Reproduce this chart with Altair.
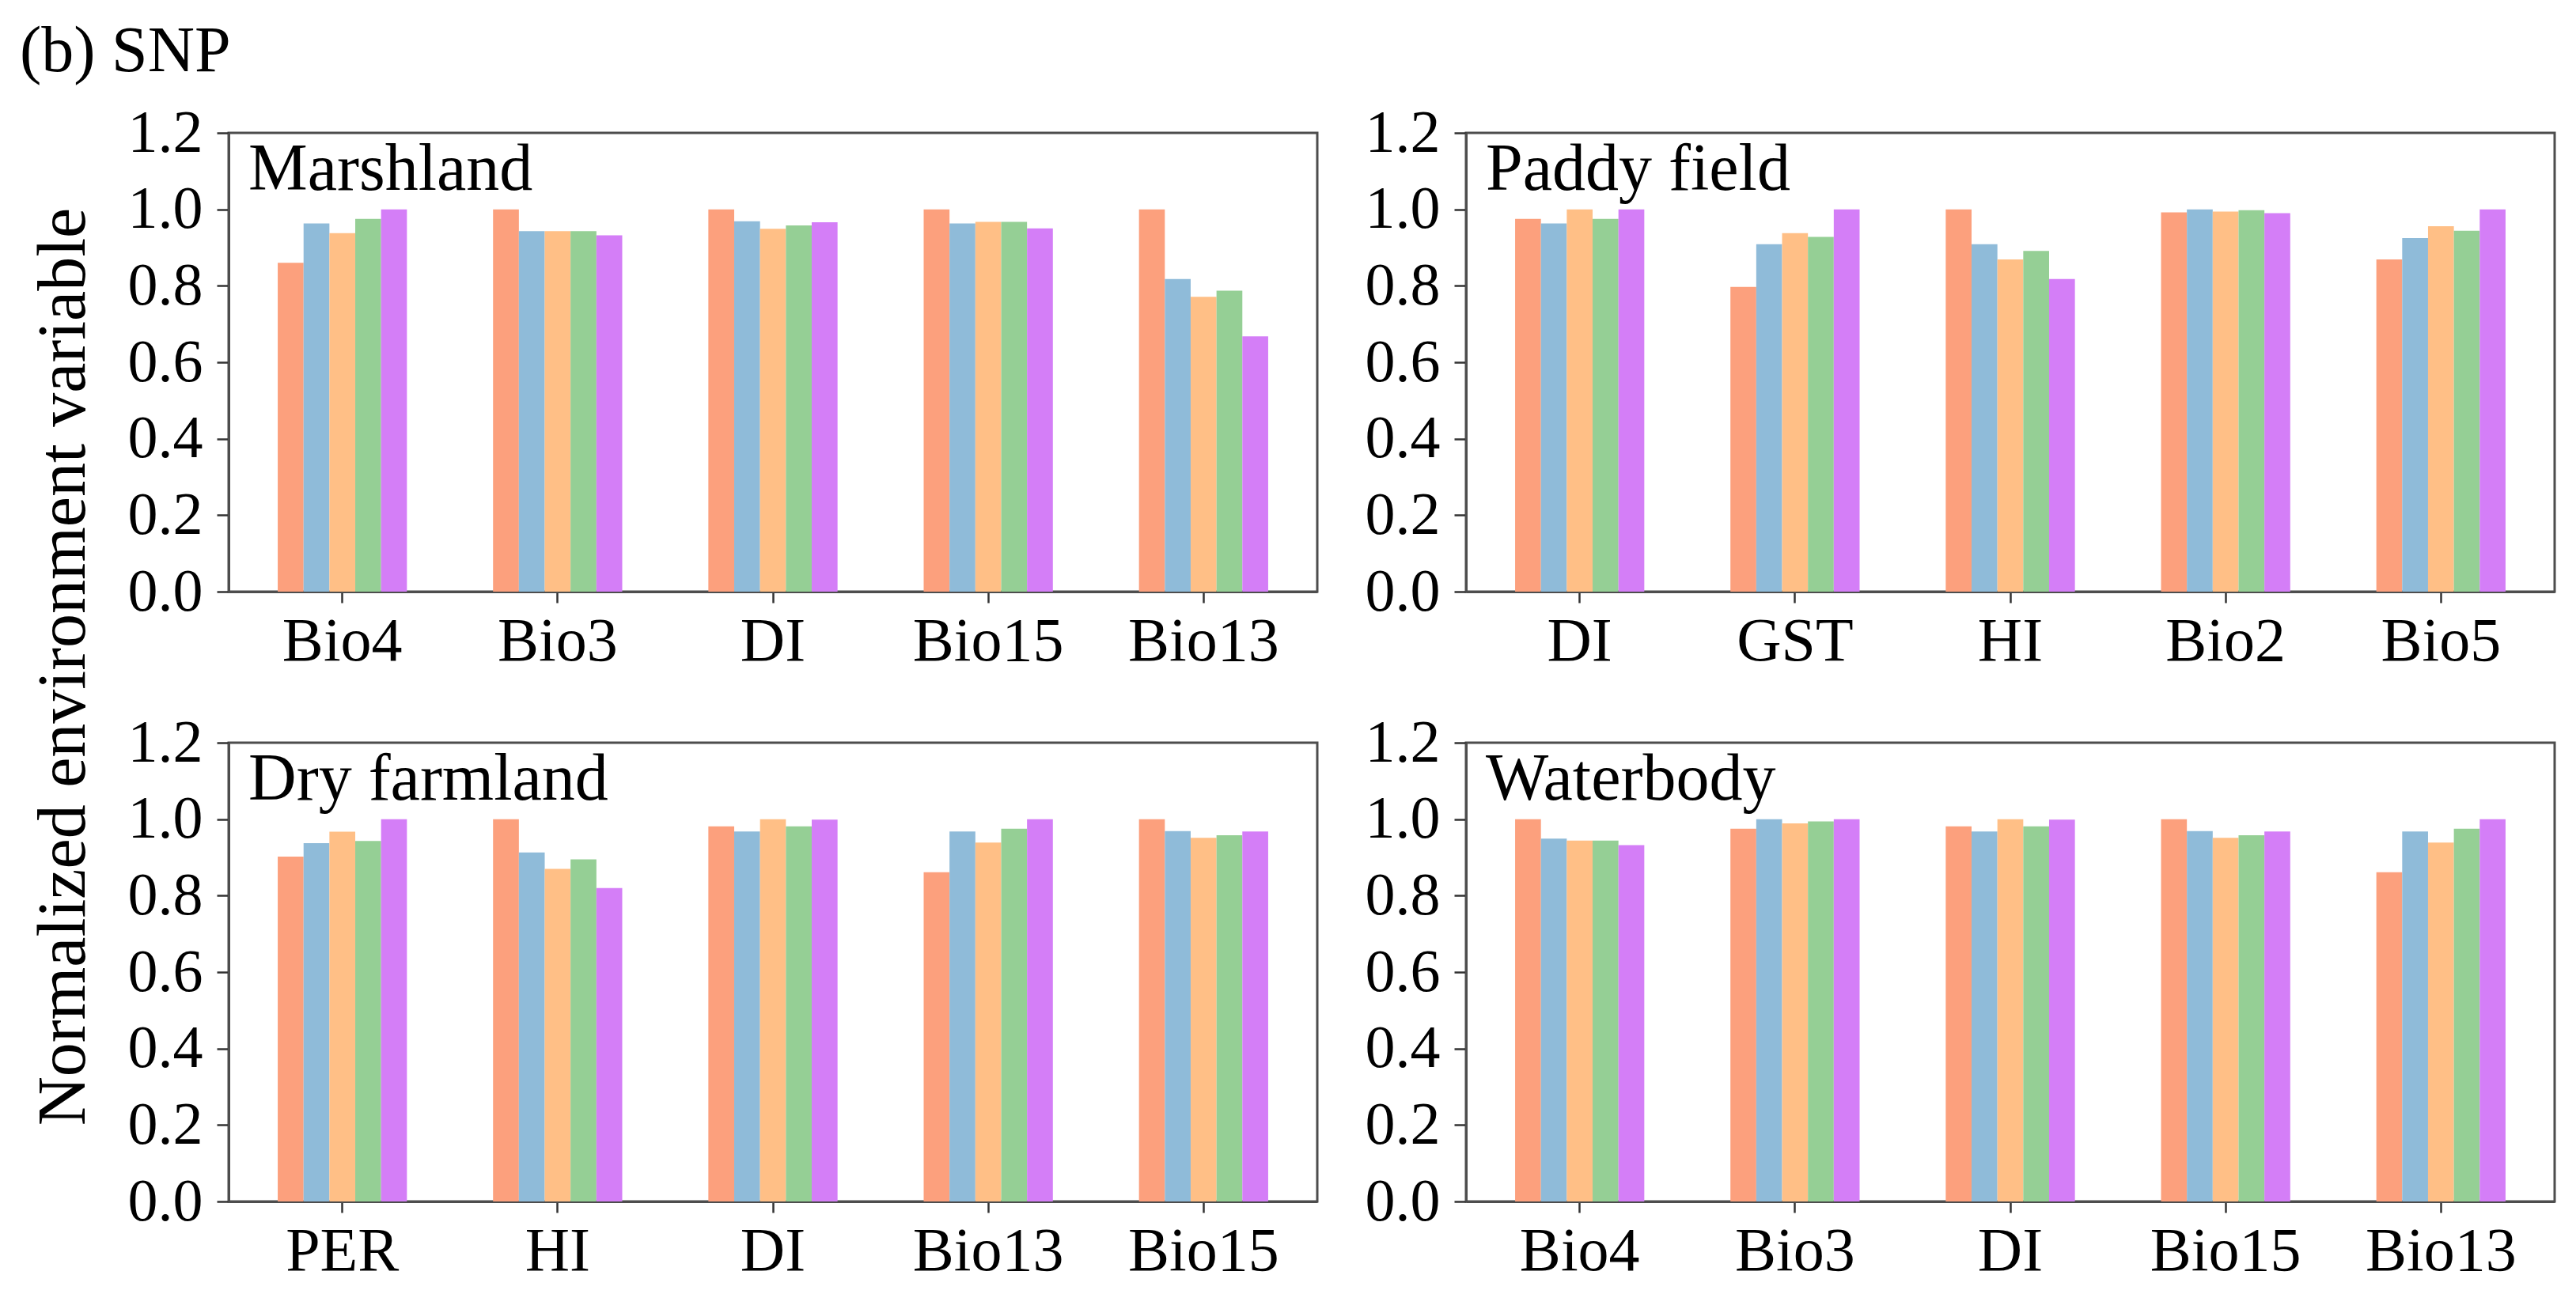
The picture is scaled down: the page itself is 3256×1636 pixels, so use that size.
import altair as alt
import pandas as pd

FONT = "Liberation Serif"

series = ["s1", "s2", "s3", "s4", "s5"]
colors = ["#FCA07D", "#8FBBD9", "#FFBF86", "#95CF95", "#D47EF7"]

panel_names = ["Marshland", "Paddy field", "Dry farmland", "Waterbody"]

marsh_cats = ["Bio4", "Bio3", "DI", "Bio15", "Bio13"]
marsh_vals = [
    [0.860, 0.963, 0.938, 0.975, 1.000],
    [1.000, 0.943, 0.943, 0.943, 0.932],
    [1.000, 0.969, 0.949, 0.958, 0.966],
    [1.000, 0.963, 0.967, 0.967, 0.950],
    [1.000, 0.818, 0.771, 0.787, 0.668],
]

paddy_cats = ["DI", "GST", "HI", "Bio2", "Bio5"]
paddy_vals = [
    [0.975, 0.963, 1.000, 0.975, 1.000],
    [0.797, 0.909, 0.938, 0.928, 1.000],
    [1.000, 0.909, 0.869, 0.891, 0.818],
    [0.992, 1.000, 0.994, 0.998, 0.990],
    [0.869, 0.925, 0.956, 0.944, 1.000],
]

dry_cats = ["PER", "HI", "DI", "Bio13", "Bio15"]
dry_vals = [
    [0.902, 0.937, 0.967, 0.943, 1.000],
    [1.000, 0.913, 0.870, 0.895, 0.820],
    [0.981, 0.968, 1.000, 0.981, 0.999],
    [0.861, 0.968, 0.939, 0.975, 1.000],
    [1.000, 0.969, 0.951, 0.958, 0.968],
]

water_cats = ["Bio4", "Bio3", "DI", "Bio15", "Bio13"]
water_vals = [
    [1.000, 0.949, 0.944, 0.944, 0.932],
    [0.975, 1.000, 0.989, 0.994, 1.000],
    [0.981, 0.968, 1.000, 0.981, 0.999],
    [1.000, 0.969, 0.951, 0.958, 0.968],
    [0.861, 0.968, 0.939, 0.975, 1.000],
]

y_ticks = [0.0, 0.2, 0.4, 0.6, 0.8, 1.0, 1.2]
fig_title = "(b) SNP"
y_title = "Normalized environment variable"

W, H = 1376, 580


def panel(name, cats, vals, extras=()):
    rows = [
        {"cat": c, "series": s, "value": v}
        for c, vv in zip(cats, vals)
        for s, v in zip(series, vv)
    ]
    df = pd.DataFrame(rows)
    bars = alt.Chart(df).mark_bar().encode(
        x=alt.X(
            "cat:N",
            sort=cats,
            scale=alt.Scale(paddingInner=0.4, paddingOuter=0.228),
            axis=alt.Axis(title=None, labelAngle=0, tickSize=14, labelPadding=10,
                          labelFontSize=78, labelLimit=0),
        ),
        xOffset=alt.XOffset("series:N", sort=series,
                            scale=alt.Scale(paddingInner=0, paddingOuter=0)),
        y=alt.Y(
            "value:Q",
            scale=alt.Scale(domain=[0, 1.2], nice=False, zero=True),
            axis=alt.Axis(values=y_ticks, format=".1f", title=None, grid=False,
                          tickSize=15, labelPadding=18, labelFontSize=76, labelLimit=0),
        ),
        color=alt.Color("series:N", scale=alt.Scale(domain=series, range=colors), legend=None),
    )
    label = alt.Chart(pd.DataFrame({"t": [name]})).mark_text(
        align="left", baseline="alphabetic", fontSize=84, font=FONT, color="black"
    ).encode(x=alt.value(25), y=alt.value(72), text="t:N")
    return alt.layer(bars, label, *extras).properties(width=W, height=H)


title_txt = alt.Chart(pd.DataFrame({"t": [fig_title]})).mark_text(
    align="left", baseline="alphabetic", fontSize=82, font=FONT, color="black"
).encode(x=alt.value(-264), y=alt.value(-78), text="t:N")

ytitle_txt = alt.Chart(pd.DataFrame({"t": [y_title]})).mark_text(
    align="center", baseline="alphabetic", angle=270, fontSize=86, font=FONT, color="black"
).encode(x=alt.value(-182), y=alt.value(-96), text="t:N")

p1 = panel(panel_names[0], marsh_cats, marsh_vals, [title_txt])
p2 = panel(panel_names[1], paddy_cats, paddy_vals)
p3 = panel(panel_names[2], dry_cats, dry_vals, [ytitle_txt])
p4 = panel(panel_names[3], water_cats, water_vals)

chart = (
    alt.concat(p1, p2, p3, p4, columns=2, spacing={"row": 191, "column": 188}, bounds="flush")
    .resolve_scale(x="independent", xOffset="independent")
    .properties(padding={"left": 15, "top": 14, "right": 5, "bottom": 5}, background="white")
    .configure(font=FONT)
    .configure_view(stroke="#4d4d4d", strokeWidth=3)
    .configure_axis(
        labelFont=FONT,
        labelColor="black",
        domainColor="#4d4d4d",
        domainWidth=3,
        tickColor="#333333",
        tickWidth=2.5,
    )
)

chart.save("out.html", embed_options={"renderer": "svg", "actions": False})
